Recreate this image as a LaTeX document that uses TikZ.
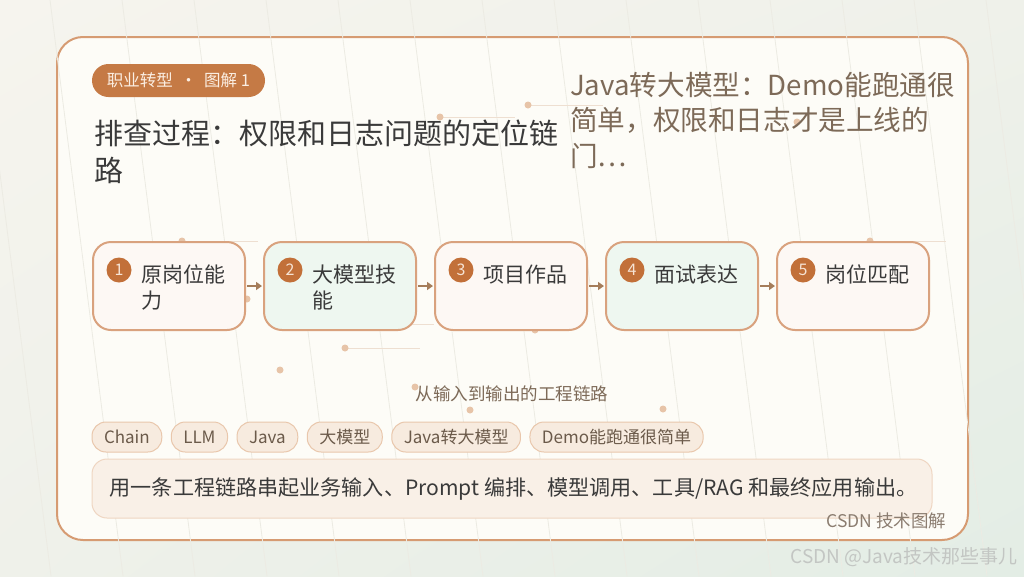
\documentclass[tikz,border=0pt]{standalone}
\usepackage{fontspec}
\setmainfont{Noto Sans CJK SC}
\usetikzlibrary{arrows.meta,calc,positioning,shadings}

\definecolor{bgA}{HTML}{F6F4EE}
\definecolor{bgB}{HTML}{E3EDE5}
\definecolor{bgC}{HTML}{EFF1EA}
\definecolor{cardfill}{HTML}{FDFCF7}
\definecolor{cardline}{HTML}{D69B72}
\definecolor{badgefill}{HTML}{C57A45}
\definecolor{badgetext}{HTML}{FBEEE2}
\definecolor{titletext}{HTML}{3A3A3A}
\definecolor{subtext}{HTML}{7D6A58}
\definecolor{warmfill}{HTML}{FDF8F4}
\definecolor{mintfill}{HTML}{EEF7F0}
\definecolor{boxline}{HTML}{D9A27E}
\definecolor{numfill}{HTML}{C27039}
\definecolor{numtext}{HTML}{F6E3D4}
\definecolor{arrowc}{HTML}{A57D5A}
\definecolor{tagfill}{HTML}{F7EBDF}
\definecolor{tagline}{HTML}{E9C7AC}
\definecolor{tagtext}{HTML}{6B5A4A}
\definecolor{capfill}{HTML}{F9F0E7}
\definecolor{capline}{HTML}{EFD6C2}
\definecolor{foottext}{HTML}{8B7D70}
\definecolor{marktext}{HTML}{C3C6C3}
\definecolor{dotc}{HTML}{E7C4A8}
\definecolor{dotline}{HTML}{EEDFD1}
\definecolor{faint}{HTML}{ECEBE3}

\newcommand{\fsz}[2]{\fontsize{#1}{#2}\selectfont}

\begin{document}
\begin{tikzpicture}[x=1pt,y=-1pt,
	stepbox/.style={draw=boxline, line width=2pt, rounded corners=18pt,
		minimum width=152pt, minimum height=88pt, inner sep=0pt, outer sep=0pt},
	numdot/.style={circle, fill=numfill, text=numtext, minimum size=25pt,
		inner sep=0pt, font=\fsz{16}{16}},
	steptext/.style={anchor=north west, inner sep=0pt, align=left,
		text=titletext, font=\fsz{21}{26}},
	tag/.style={draw=tagline, fill=tagfill, text=tagtext, line width=1pt,
		rounded corners=14pt, minimum height=30pt, inner xsep=12pt,
		inner ysep=0pt, outer sep=0pt, font=\fsz{17}{17}},
	flow/.style={arrowc, line width=2pt, -{Triangle[length=6pt,width=8pt]},
		shorten <=2pt, shorten >=2pt},
	deco/.style={dotline, line width=1pt}]

	% background and card
	\shade[upper left=bgA, upper right=bgC, lower left=bgC, lower right=bgB]
		(0,0) rectangle (1024,576);
	\useasboundingbox (0,0) rectangle (1024,576);
	\draw[cardline, line width=2pt, fill=cardfill, rounded corners=26pt]
		(57,37) rectangle (968,540);

	% faint slanted lines
	\foreach \x in {-22,50,...,1030} {
		\draw[faint, line width=0.8pt] (\x,0) -- ++(73,576);
	}

	% small dots with hair lines
	\foreach \x/\y/\len in {182/241/76, 440/117/75, 528/105/75, 345/348/75,
		870/241/76, 358/324/76} {
		\draw[deco] (\x,\y) -- ++(\len,0);
	}
	\foreach \x/\y in {182/241, 440/117, 528/105, 345/348, 870/241, 797/122,
		280/370, 663/409, 415/387, 535/330, 247/299, 470/410} {
		\fill[dotc] (\x,\y) circle (3.5pt);
	}

	% header
	\node[fill=badgefill, text=badgetext, rounded corners=16.5pt,
		minimum width=173pt, minimum height=33pt, inner sep=0pt,
		font=\fsz{16.5}{16.5}] (badge) at (178.5,80.5) {职业转型 \ · \ 图解 1};
	\node[anchor=north west, inner sep=0pt, align=left, text=titletext,
		font=\fsz{29}{37}] (title) at (94,120)
		{排查过程：权限和日志问题的定位链\\路};
	\node[anchor=north west, inner sep=0pt, align=left, text=subtext,
		font=\fsz{27.6}{35.5}] (lead) at (570,72)
		{Java转大模型：Demo能跑通很\\简单，权限和日志才是上线的\\门…};

	% steps
	\node[stepbox, fill=warmfill] (b1) at (169,286) {};
	\node[stepbox, fill=mintfill, right=19pt of b1] (b2) {};
	\node[stepbox, fill=warmfill, right=19pt of b2] (b3) {};
	\node[stepbox, fill=mintfill, right=19pt of b3] (b4) {};
	\node[stepbox, fill=warmfill, right=19pt of b4] (b5) {};

	\foreach \i/\txt in {1/{原岗位能\\力}, 2/{大模型技\\能}, 3/{项目作品},
		4/{面试表达}, 5/{岗位匹配}} {
		\node[numdot] (n\i) at ($(b\i.north west)+(26,28)$) {\i};
		\node[steptext] (t\i) at ($(b\i.north west)+(48,23)$) {\txt};
	}

	\foreach \i/\j in {1/2, 2/3, 3/4, 4/5} {
		\draw[flow] (b\i) -- (b\j);
	}

	\node[text=subtext, font=\fsz{17.5}{17.5}] (flowcap) at (512,394)
		{从输入到输出的工程链路};

	% tags
	\node[tag, anchor=west] (tg1) at (92,437) {Chain};
	\node[tag, right=9.5pt of tg1] (tg2) {LLM};
	\node[tag, right=9.5pt of tg2] (tg3) {Java};
	\node[tag, right=9.5pt of tg3] (tg4) {大模型};
	\node[tag, right=9.5pt of tg4] (tg5) {Java转大模型};
	\node[tag, right=9.5pt of tg5] (tg6) {Demo能跑通很简单};

	% caption box
	\node[draw=capline, fill=capfill, line width=1pt, rounded corners=15pt,
		minimum width=840pt, minimum height=59pt] (capbox) at (512,488.5) {};
	\node[anchor=west, inner sep=0pt, text=titletext, font=\fsz{21.1}{21.1}]
		(captext) at ($(capbox.west)+(18,0)$)
		{用一条工程链路串起业务输入、Prompt 编排、模型调用、工具/RAG 和最终应用输出。};

	\node[anchor=east, text=foottext, font=\fsz{17.5}{17.5}] (foot) at (950,521)
		{CSDN 技术图解};
	\node[anchor=east, text=marktext, font=\fsz{19}{19}] (mark) at (1021,557)
		{CSDN @Java技术那些事儿};
\end{tikzpicture}
\end{document}
